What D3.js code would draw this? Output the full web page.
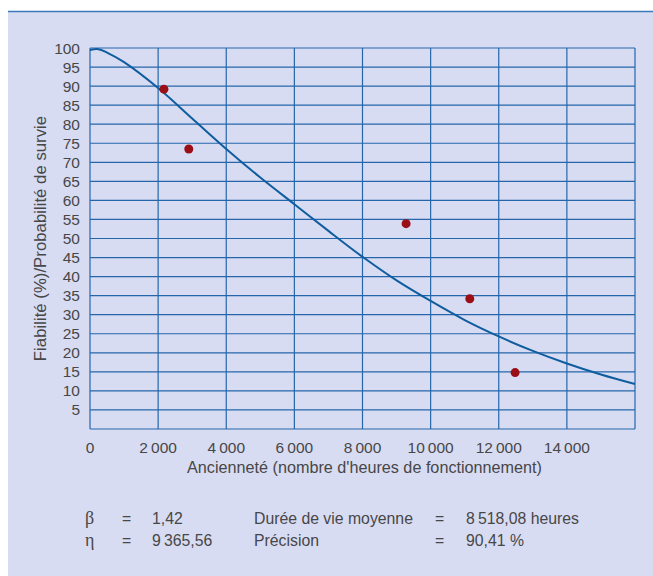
<!DOCTYPE html>
<html>
<head>
<meta charset="utf-8">
<script src="https://cdn.jsdelivr.net/npm/d3@7"></script>
<style>
  body { margin: 0; background: #fff; }
  text { font-family: "Liberation Sans", Arial, sans-serif; fill: #474747; }
</style>
</head>
<body>
<div id="chart"></div>
<script>
// fitted reliability curve (hours -> %)
var curveHours = [0, 250, 500, 1000, 2000, 3000, 4000, 5000, 6000, 7000, 8000, 9000, 10000, 11000, 12000, 13000, 14000, 15000, 16000];
var curveRel   = [99.5, 99.7, 98.8, 96.3, 89.5, 81.5, 73.5, 66, 59, 52, 45.2, 39, 33.6, 28.6, 24.3, 20.5, 17.2, 14.3, 11.8];

// observed points
var obsHours = [2170, 2900, 9280, 11150, 12480];
var obsRel   = [89.2, 73.5, 53.9, 34.2, 14.8];

var xTicks = [0, 2000, 4000, 6000, 8000, 10000, 12000, 14000];
var xGrid  = [0, 2000, 4000, 6000, 8000, 10000, 12000, 14000, 16000];
var yTicks = [5, 10, 15, 20, 25, 30, 35, 40, 45, 50, 55, 60, 65, 70, 75, 80, 85, 90, 95, 100];
var yGrid  = [0, 5, 10, 15, 20, 25, 30, 35, 40, 45, 50, 55, 60, 65, 70, 75, 80, 85, 90, 95, 100];

var statsLeft  = [['\u03b2', '=', '1,42'], ['\u03b7', '=', '9\u2009365,56']];
var statsRight = [['Durée de vie moyenne', '=', '8\u2009518,08 heures'], ['Précision', '=', '90,41 %']];

var W = 653, H = 576;
var margin = {left: 90, right: 18, top: 48, bottom: 147};

var svg = d3.select('#chart').append('svg')
  .attr('width', W)
  .attr('height', H);

// panel background + top rule
svg.append('rect')
  .attr('x', 8).attr('y', 12)
  .attr('width', W - 8).attr('height', H - 12)
  .attr('fill', '#d8dcf3');
svg.append('line')
  .attr('x1', 8).attr('x2', W)
  .attr('y1', 11.5).attr('y2', 11.5)
  .attr('stroke', '#3d78bb').attr('stroke-width', 1.6);

var x = d3.scaleLinear().domain([0, 16000]).range([margin.left, W - margin.right]);
var y = d3.scaleLinear().domain([0, 100]).range([H - margin.bottom, margin.top]);

var fmt = function(d) {
  return d3.format(',')(d).replace(/,/g, '\u2009');
};

// grid
var grid = svg.append('g').attr('class', 'grid')
  .attr('stroke', '#2566aa').attr('stroke-width', 1.2);
grid.selectAll('line.h').data(yGrid).enter().append('line')
  .attr('class', 'h')
  .attr('x1', x(0)).attr('x2', x(16000))
  .attr('y1', function(d) { return y(d); })
  .attr('y2', function(d) { return y(d); });
grid.selectAll('line.v').data(xGrid).enter().append('line')
  .attr('class', 'v')
  .attr('y1', y(0)).attr('y2', y(100))
  .attr('x1', function(d) { return x(d); })
  .attr('x2', function(d) { return x(d); });

// tick labels
svg.append('g').selectAll('text').data(yTicks).enter().append('text')
  .attr('x', margin.left - 10)
  .attr('y', function(d) { return y(d) + 5.5; })
  .attr('text-anchor', 'end')
  .attr('font-size', 15.5)
  .text(function(d) { return d; });

svg.append('g').selectAll('text').data(xTicks).enter().append('text')
  .attr('x', function(d) { return x(d); })
  .attr('y', y(0) + 24)
  .attr('text-anchor', 'middle')
  .attr('font-size', 15.5)
  .text(fmt);

// axis titles
svg.append('text')
  .attr('transform', 'translate(46,' + y(50) + ') rotate(-90)')
  .attr('text-anchor', 'middle')
  .attr('font-size', 16.8)
  .text('Fiabilité (%)/Probabilité de survie');

svg.append('text')
  .attr('x', (x(0) + x(16000)) / 2 + 2)
  .attr('y', y(0) + 44)
  .attr('text-anchor', 'middle')
  .attr('font-size', 16.2)
  .text('Ancienneté (nombre d\'heures de fonctionnement)');

// curve
var line = d3.line()
  .x(function(d) { return x(d[0]); })
  .y(function(d) { return y(d[1]); })
  .curve(d3.curveCatmullRom.alpha(0.5));

svg.append('path')
  .datum(d3.zip(curveHours, curveRel))
  .attr('fill', 'none')
  .attr('stroke', '#0f5d9f')
  .attr('stroke-width', 2)
  .attr('d', line);

// observed points
svg.append('g').selectAll('circle').data(d3.zip(obsHours, obsRel)).enter().append('circle')
  .attr('cx', function(d) { return x(d[0]); })
  .attr('cy', function(d) { return y(d[1]); })
  .attr('r', 4.5)
  .attr('fill', '#9a0e16');

// parameters block
var rowY = [524, 546];
var left = svg.append('g');
statsLeft.forEach(function(r, i) {
  left.append('text').attr('x', 85).attr('y', rowY[i]).attr('font-size', 18)
    .style('font-family', '"Liberation Serif", serif').text(r[0]);
  left.append('text').attr('x', 122).attr('y', rowY[i]).attr('font-size', 15.8).text(r[1]);
  left.append('text').attr('x', 152).attr('y', rowY[i]).attr('font-size', 15.8).text(r[2]);
});
statsRight.forEach(function(r, i) {
  left.append('text').attr('x', 254).attr('y', rowY[i]).attr('font-size', 15.8).text(r[0]);
  left.append('text').attr('x', 435).attr('y', rowY[i]).attr('font-size', 15.8).text(r[1]);
  left.append('text').attr('x', 466).attr('y', rowY[i]).attr('font-size', 15.8).text(r[2]);
});
</script>
</body>
</html>
